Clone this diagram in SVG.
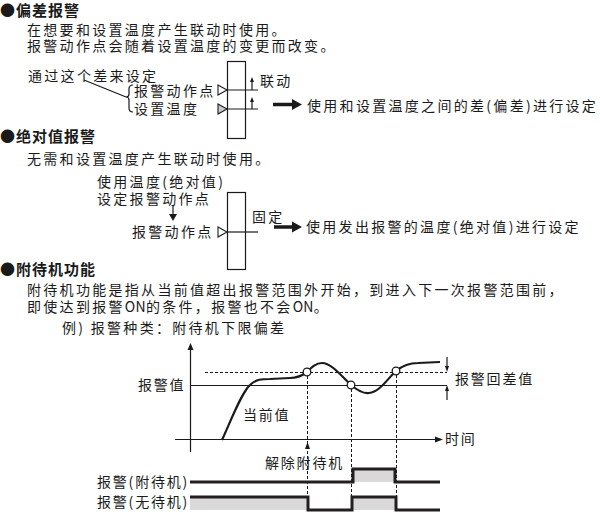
<svg xmlns="http://www.w3.org/2000/svg" width="600" height="512" viewBox="0 0 600 512">
<style>
text{font-family:"Noto Sans CJK SC","Noto Sans",sans-serif;fill:#1a1a1a;font-size:14px;letter-spacing:2.3px}
.h{font-weight:bold;font-size:15px;letter-spacing:1px}
.c{letter-spacing:1.8px}
.t{letter-spacing:0.3px}
.ln{stroke:#1a1a1a;stroke-width:1.2;fill:none}
.dash{stroke:#1a1a1a;stroke-width:1;fill:none;stroke-dasharray:3 2}
.wave{stroke:#231f20;stroke-width:3;fill:none}
.gray{fill:#d9d9d9}
.hd{fill:#1a1a1a}
</style>
<rect width="600" height="512" fill="#fff"/>

<!-- Section 1 -->
<g id="sec1-text">
<text class="h" x="0" y="16">●偏差报警</text>
<text x="27" y="35">在想要和设置温度产生联动时使用。</text>
<text x="27" y="51">报警动作点会随着设置温度的变更而改变。</text>
<text x="28" y="81">通过这个差来设定</text>
<text x="134" y="96">报警动作点</text>
<text x="134" y="114">设置温度</text>
<text x="260" y="86">联动</text>
<text x="307" y="111">使用和设置温度之间的差(偏差)进行设定</text>
</g>
<g id="box1">
<rect x="227.5" y="61.5" width="18" height="77" class="ln"/>
<polygon points="218,85 227,90 218,95" fill="#fff" stroke="#1a1a1a" stroke-width="1.1"/>
<polygon points="218,104 227,109 218,114" fill="#c8c8c8" stroke="#1a1a1a" stroke-width="1.1"/>
</g>
<g id="connectors1">
<path class="ln" d="M84,80 L126,97"/>
<path class="ln" d="M133,85 Q129,85 129,89 L129,94 Q129,97 126,97 Q129,97 129,100 L129,108 Q129,112 133,112"/>
<path class="ln" d="M227,90 H258 M227,109 H258"/>
<path class="ln" d="M252,90 V81 M252,109 V101"/>
<polygon class="hd" points="250,82 252,77 254,82"/>
<polygon class="hd" points="250,102 252,97 254,102"/>
<path d="M273,104.5 H294" stroke="#1a1a1a" stroke-width="3.5"/>
<polygon class="hd" points="292,99 302,104.5 292,110"/>
</g>

<!-- Section 2 -->
<g id="sec2-text">
<text class="h" x="0" y="142">●绝对值报警</text>
<text x="27" y="164">无需和设置温度产生联动时使用。</text>
<text x="97" y="187">使用温度(绝对值)</text>
<text x="97" y="204">设定报警动作点</text>
<text x="132" y="237">报警动作点</text>
<text x="252" y="222">固定</text>
<text x="306" y="232">使用发出报警的温度(绝对值)进行设定</text>
</g>
<g id="box2">
<rect x="227.5" y="192.5" width="18" height="77" class="ln"/>
<polygon points="218,227 227,232 218,237" fill="#fff" stroke="#1a1a1a" stroke-width="1.1"/>
</g>
<g id="connectors2">
<path class="ln" d="M173,206 V215"/>
<polygon class="hd" points="169,214 173,221 177,214"/>
<path class="ln" d="M227,232 H258"/>
<path d="M274,227 H294" stroke="#1a1a1a" stroke-width="3.5"/>
<polygon class="hd" points="292,221.5 302,227 292,232.5"/>
</g>

<!-- Section 3 -->
<g id="sec3-text">
<text class="h" x="0" y="275">●附待机功能</text>
<text x="27" y="295">附待机功能是指从当前值超出报警范围外开始，到进入下一次报警范围前，</text>
<text x="27" y="312">即使达到报警<tspan class="t">ON</tspan>的条件，报警也不会<tspan class="t">ON</tspan>。</text>
<text x="62" y="333">例)  报警种类：附待机下限偏差</text>
</g>

<g id="chart">
<g id="fills">
<rect class="gray" x="353" y="469" width="42" height="13"/>
<rect class="gray" x="190" y="497" width="118" height="13"/>
<rect class="gray" x="352" y="497" width="44" height="13"/>
</g>
<g id="axes">
<path class="ln" d="M190.5,452 V348"/>
<polygon class="hd" points="187.5,350 190.5,343 193.5,350"/>
<path class="ln" d="M175,439.5 H437"/>
<polygon class="hd" points="435,436.5 443,439.5 435,442.5"/>
</g>
<g id="levels">
<path class="ln" d="M190,385.5 H447"/>
<path class="dash" d="M205,372.5 H447" stroke-dasharray="4 3"/>
</g>
<g id="curve">
<path d="M222,440 C232,418 242,392 250,385 C256,379 262,379 270,379 L290,378 C298,378 303,375 307,372 C312,367 316,363 322,363 C332,363 343,378 351,385 C357,390 363,394 369,393 C380,392 388,378 396,371 C402,366 408,363 418,363 L440,362" fill="none" stroke="#1a1a1a" stroke-width="2.2"/>
</g>
<g id="dashes">
<path class="dash" d="M307.5,376 V510"/>
<path class="dash" d="M351.5,389 V500"/>
<path class="dash" d="M396.5,375 V500"/>
</g>
<g id="markers">
<circle cx="307" cy="372" r="3.8" fill="#fff" stroke="#1a1a1a" stroke-width="1.3"/>
<circle cx="351" cy="385" r="3.8" fill="#fff" stroke="#1a1a1a" stroke-width="1.3"/>
<circle cx="396" cy="371" r="3.8" fill="#fff" stroke="#1a1a1a" stroke-width="1.3"/>
</g>
<g id="hyst">
<path class="ln" d="M447,357 V367"/>
<polygon class="hd" points="445,366 447,372 449,366"/>
<path class="ln" d="M447,400 V391"/>
<polygon class="hd" points="445,391 447,385 449,391"/>
<polygon class="hd" points="305,449 307.5,442 310,449"/>
</g>
<g id="waves">
<path class="wave" d="M190,482 H353 V469 H395 V482 H440"/>
<path class="wave" d="M190,497 H308 V510 H352 V497 H396 V510 H440"/>
</g>
<g id="chart-text">
<text class="c" x="138" y="390">报警值</text>
<text class="c" x="243" y="420">当前值</text>
<text class="c" x="445" y="444">时间</text>
<text class="c" x="455" y="384">报警回差值</text>
<text class="c" x="265" y="468">解除附待机</text>
<text class="c" x="97" y="487" letter-spacing="0.5">报警(附待机)</text>
<text class="c" x="97" y="507" letter-spacing="0.5">报警(无待机)</text>
</g>
</g>
</svg>
